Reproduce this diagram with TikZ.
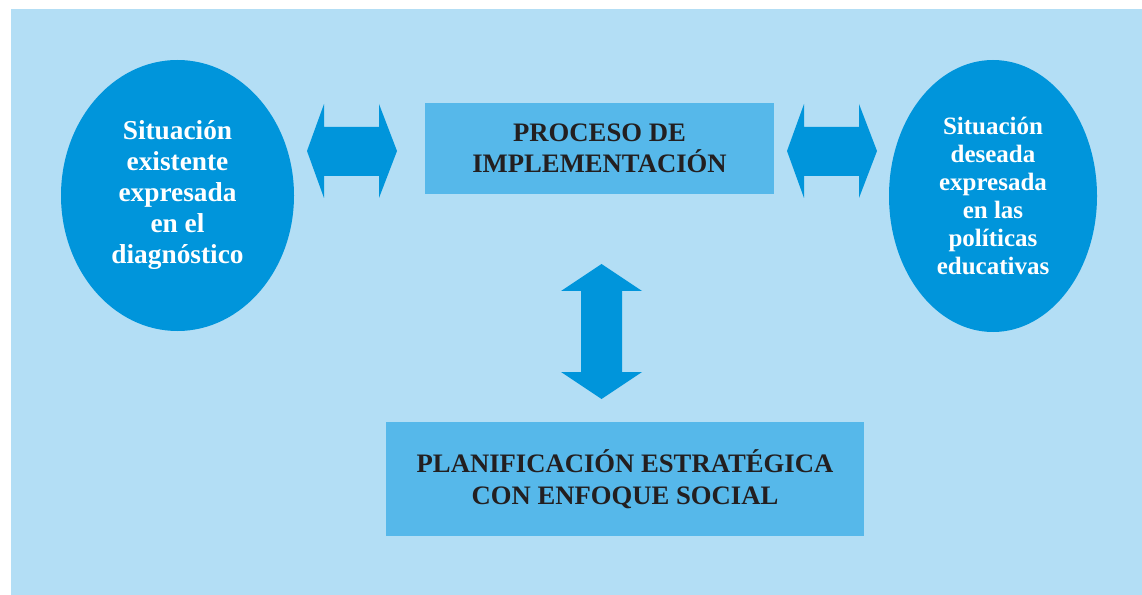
\documentclass[tikz,border=0pt]{standalone}
\usepackage{fontspec}
\setmainfont{Liberation Serif}
\usetikzlibrary{shapes.geometric}

\definecolor{fondo}{HTML}{B3DEF5}
\definecolor{azul}{HTML}{0095DB}
\definecolor{celeste}{HTML}{56B8EA}
\definecolor{tinta}{HTML}{231F20}

\tikzset{every picture/.style={line width=0.75pt}}
\tikzset{
  situacion/.style={ellipse, fill=azul, inner sep=0pt, text=white, align=center},
  caja/.style={rectangle, fill=celeste, inner sep=0pt, text=tinta, align=center,
    font=\bfseries\fontsize{20}{23.25}\selectfont},
  flecha/.style={fill=azul, draw=none}
}

\begin{document}
\begin{tikzpicture}[x=0.75pt,y=0.75pt,yscale=-1,xscale=1]
	\useasboundingbox (0,0) rectangle (1142,595);
	%Shape: Rectangle [background]
	\fill [fondo] (11,9) rectangle (1142,595);

	%Shape: Ellipse [left]
	\node [situacion, minimum width=174.75pt, minimum height=203.25pt,
	  font=\bfseries\fontsize{20.5}{23.25}\selectfont] (existente) at (177.5,195.5)
	  {Situación\\existente\\expresada\\en el\\diagnóstico};
	%Shape: Ellipse [right]
	\node [situacion, minimum width=156pt, minimum height=204pt,
	  font=\bfseries\fontsize{18.75}{20.9}\selectfont] (deseada) at (993,196)
	  {Situación\\deseada\\expresada\\en las\\políticas\\educativas};

	%Shape: Rectangle [top]
	\node [caja, minimum width=261.75pt, minimum height=68.25pt] (proceso) at (599.5,148.5)
	  {PROCESO DE\\IMPLEMENTACIÓN};
	%Shape: Rectangle [bottom]
	\node [caja, minimum width=358.5pt, minimum height=85.5pt,
	  font=\bfseries\fontsize{20}{24}\selectfont] (planificacion) at (625,479)
	  {PLANIFICACIÓN ESTRATÉGICA\\CON ENFOQUE SOCIAL};

	%Shape: Double Arrow [left]
	\fill [flecha] (307,151) -- (324,104) -- (324,127) -- (379,127) -- (379,104) -- (397,151)
	  -- (379,198) -- (379,176) -- (324,176) -- (324,198) -- cycle ;
	%Shape: Double Arrow [right]
	\fill [flecha] (787,151) -- (804,104) -- (804,127) -- (859,127) -- (859,104) -- (877,151)
	  -- (859,198) -- (859,176) -- (804,176) -- (804,198) -- cycle ;
	%Shape: Double Arrow [vertical]
	\fill [flecha] (601.5,264) -- (642,291) -- (622,291) -- (622,372) -- (642,372) -- (601.5,399)
	  -- (561,372) -- (581,372) -- (581,291) -- (561,291) -- cycle ;

\end{tikzpicture}
\end{document}
